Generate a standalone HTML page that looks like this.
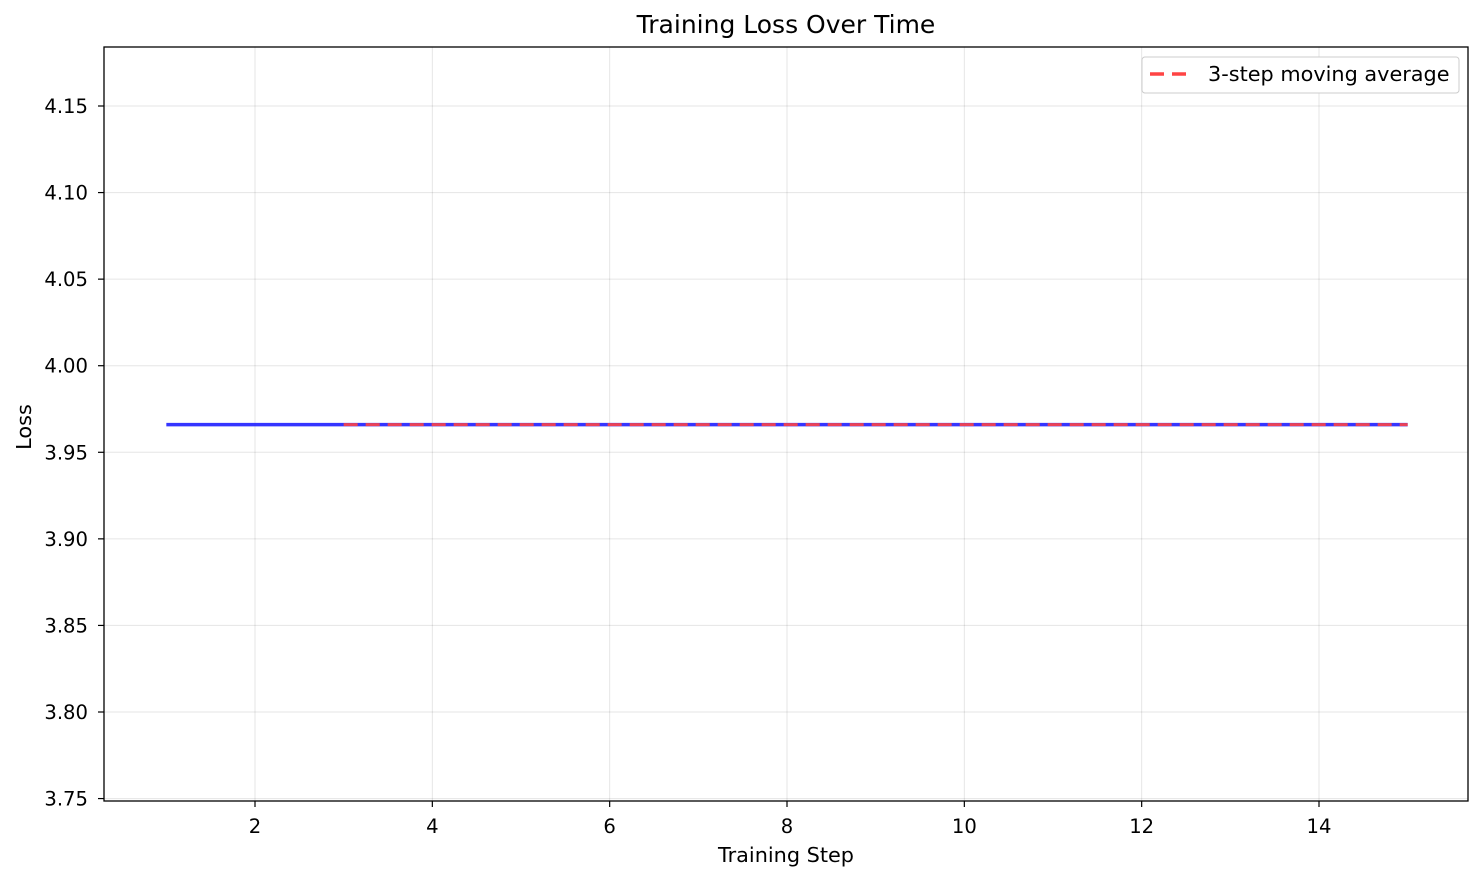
<!DOCTYPE html>
<html><head><meta charset="utf-8">
<style>
body{margin:0;background:#fff;}
svg text{font-family:"DejaVu Sans","Liberation Sans",sans-serif;fill:#000;}
</style></head>
<body>
<svg id="chart" width="1484" height="881" xmlns="http://www.w3.org/2000/svg">
<rect width="1484" height="881" fill="#fff"/>
<g id="grid"></g>
<g id="series"></g>
<rect x="104" y="47" width="1364" height="754" fill="none" stroke="#000" stroke-width="1.3"/>
<g id="axes"></g>
<text x="786" y="33" font-size="25" text-anchor="middle">Training Loss Over Time</text>
<text x="786" y="862" font-size="20.8" text-anchor="middle">Training Step</text>
<text x="31" y="427" font-size="20.8" text-anchor="middle" transform="rotate(-90 31 427)">Loss</text>
<g>
<rect x="1142" y="57" width="317" height="36" rx="3" fill="#fff" stroke="#ccc" stroke-width="1"/>
<line x1="1150" y1="74" x2="1190" y2="74" stroke="#ff4444" stroke-width="3.5" stroke-dasharray="14,8"/>
<text x="1208" y="81" font-size="20.8">3-step moving average</text>
</g>
</svg>
<script>
const steps = [1,2,3,4,5,6,7,8,9,10,11,12,13,14,15];
const lossValues = [3.966,3.966,3.966,3.966,3.966,3.966,3.966,3.966,3.966,3.966,3.966,3.966,3.966,3.966,3.966];
const xTicks = [2,4,6,8,10,12,14];
const yTicks = [3.75,3.80,3.85,3.90,3.95,4.00,4.05,4.10,4.15];
const yTickLabels = ["3.75","3.80","3.85","3.90","3.95","4.00","4.05","4.10","4.15"];

const NS="http://www.w3.org/2000/svg";
const L=104,R=1468,T=47,B=801;
const xScale=v=>255+(v-2)*(1319-255)/12;
const yScale=v=>712-(v-3.80)*(712-106)/0.35;

function mk(tag,attrs,parent){const e=document.createElementNS(NS,tag);for(const k in attrs)e.setAttribute(k,attrs[k]);parent.appendChild(e);return e;}
const grid=document.getElementById('grid'),axes=document.getElementById('axes'),series=document.getElementById('series');

xTicks.forEach(v=>{
  const x=xScale(v);
  const g=mk('line',{x1:x,x2:x,y1:T,y2:B,stroke:'#000','stroke-opacity':0.1,'stroke-width':1},grid);
  
  
  const t=mk('line',{x1:x,x2:x,y1:B,y2:B+6,stroke:'#000','stroke-width':1.2},axes);
  
  
  const l=mk('text',{x:x,y:833,'font-size':19.6,'text-anchor':'middle'},axes);
  l.textContent=v;
  
  
});
yTicks.forEach((v,i)=>{
  const y=yScale(v);
  const g=mk('line',{x1:L,x2:R,y1:y,y2:y,stroke:'#000','stroke-opacity':0.1,'stroke-width':1},grid);
  
  
  const t=mk('line',{x1:L-6,x2:L,y1:y,y2:y,stroke:'#000','stroke-width':1.2},axes);
  
  
  const l=mk('text',{x:L-16,y:y+7,'font-size':19.6,'text-anchor':'end'},axes);
  l.textContent=yTickLabels[i];
  
  
});

const lossPts=steps.map((s,i)=>xScale(s)+','+yScale(lossValues[i])).join(' ');
const lossLine=mk('polyline',{points:lossPts,fill:'none',stroke:'#1f1fff','stroke-opacity':0.9,'stroke-width':3.5},series);



const maSteps=[],maVals=[];
for(let i=2;i<lossValues.length;i++){maSteps.push(steps[i]);maVals.push((lossValues[i]+lossValues[i-1]+lossValues[i-2])/3);}
const maPts=maSteps.map((s,i)=>xScale(s)+','+yScale(maVals[i])).join(' ');
const maLine=mk('polyline',{points:maPts,fill:'none',stroke:'#ff4444','stroke-opacity':0.9,'stroke-width':3,'stroke-dasharray':'14,8'},series);


</script>
</body></html>
